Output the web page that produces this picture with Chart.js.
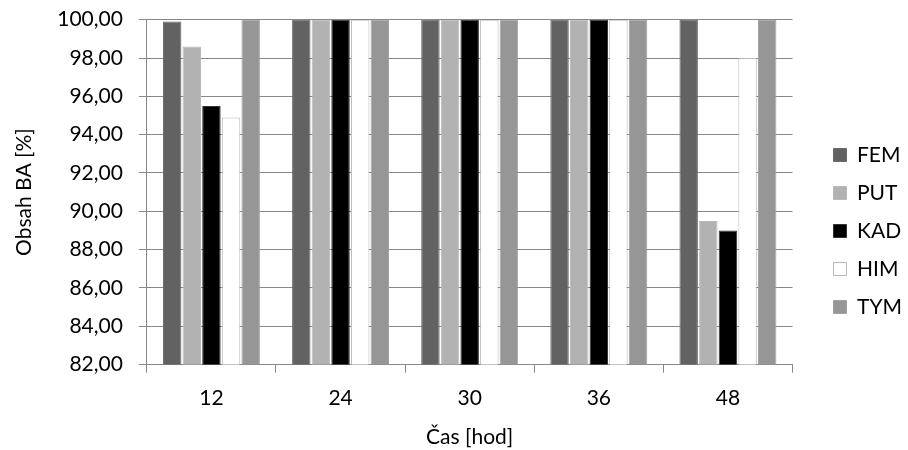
<!DOCTYPE html>
<html>
<head>
<meta charset="utf-8">
<script src="https://cdn.jsdelivr.net/npm/chart.js@4"></script>
<style>
  body { margin: 0; background: #fff; }
  #wrap { width: 908px; height: 450px; }
</style>
</head>
<body>
<div id="wrap"><canvas id="c"></canvas></div>
<script>
const times = ["12", "24", "30", "36", "48"];
const fem = [99.9, 100, 100, 100, 100];
const put = [98.6, 100, 100, 100, 89.5];
const kad = [95.5, 100, 100, 100, 89.0];
const him = [94.9, 100, 100, 100, 98.0];
const tym = [100, 100, 100, 100, 100];

const font = "Lato, 'Open Sans', sans-serif";

const mk = (label, data, fill, border) => ({
  label: label,
  data: data,
  backgroundColor: fill,
  borderColor: border,
  borderWidth: 1,
  categoryPercentage: 0.76,
  barPercentage: 0.94
});

new Chart(document.getElementById("c"), {
  type: "bar",
  data: {
    labels: times,
    datasets: [
      mk("FEM", fem, "#626262", "#6a6a6a"),
      mk("PUT", put, "#b2b2b2", "#bababa"),
      mk("KAD", kad, "#000000", "#333333"),
      mk("HIM", him, "#ffffff", "#b8b8b8"),
      mk("TYM", tym, "#969696", "#a0a0a0")
    ]
  },
  options: {
    responsive: true,
    maintainAspectRatio: false,
    animation: false,
    layout: { padding: { left: 8, right: -4, top: 12, bottom: 0 } },
    plugins: {
      legend: {
        position: "right",
        labels: {
          boxWidth: 13,
          boxHeight: 13,
          padding: 17,
          color: "#000",
          font: { family: font, size: 21 }
        }
      },
      tooltip: { enabled: false }
    },
    scales: {
      x: {
        grid: {
          offset: true,
          drawOnChartArea: false,
          color: "#888",
          tickLength: 8
        },
        border: { color: "#888" },
        ticks: { color: "#000", font: { family: font, size: 21 }, padding: 13 },
        title: {
          display: true,
          text: "Čas [hod]",
          color: "#000",
          font: { family: font, size: 21 },
          padding: { top: 1, bottom: 0 }
        }
      },
      y: {
        min: 82,
        max: 100,
        ticks: {
          stepSize: 2,
          color: "#000",
          // small lineHeight keeps the label half-height from pushing the plot down
          font: { family: font, size: 21, lineHeight: 0.35 },
          padding: 16,
          callback: v => v.toFixed(2).replace(".", ",")
        },
        grid: { color: "#888", tickLength: 8 },
        border: { color: "#888" },
        title: {
          display: true,
          text: "Obsah BA [%]",
          color: "#000",
          font: { family: font, size: 21 }
        }
      },
      gap: {
        position: "right",
        display: true,
        grid: { display: false },
        border: { display: false },
        ticks: { display: false },
        afterFit: s => { s.width = 24; }
      }
    }
  }
});
</script>
</body>
</html>
